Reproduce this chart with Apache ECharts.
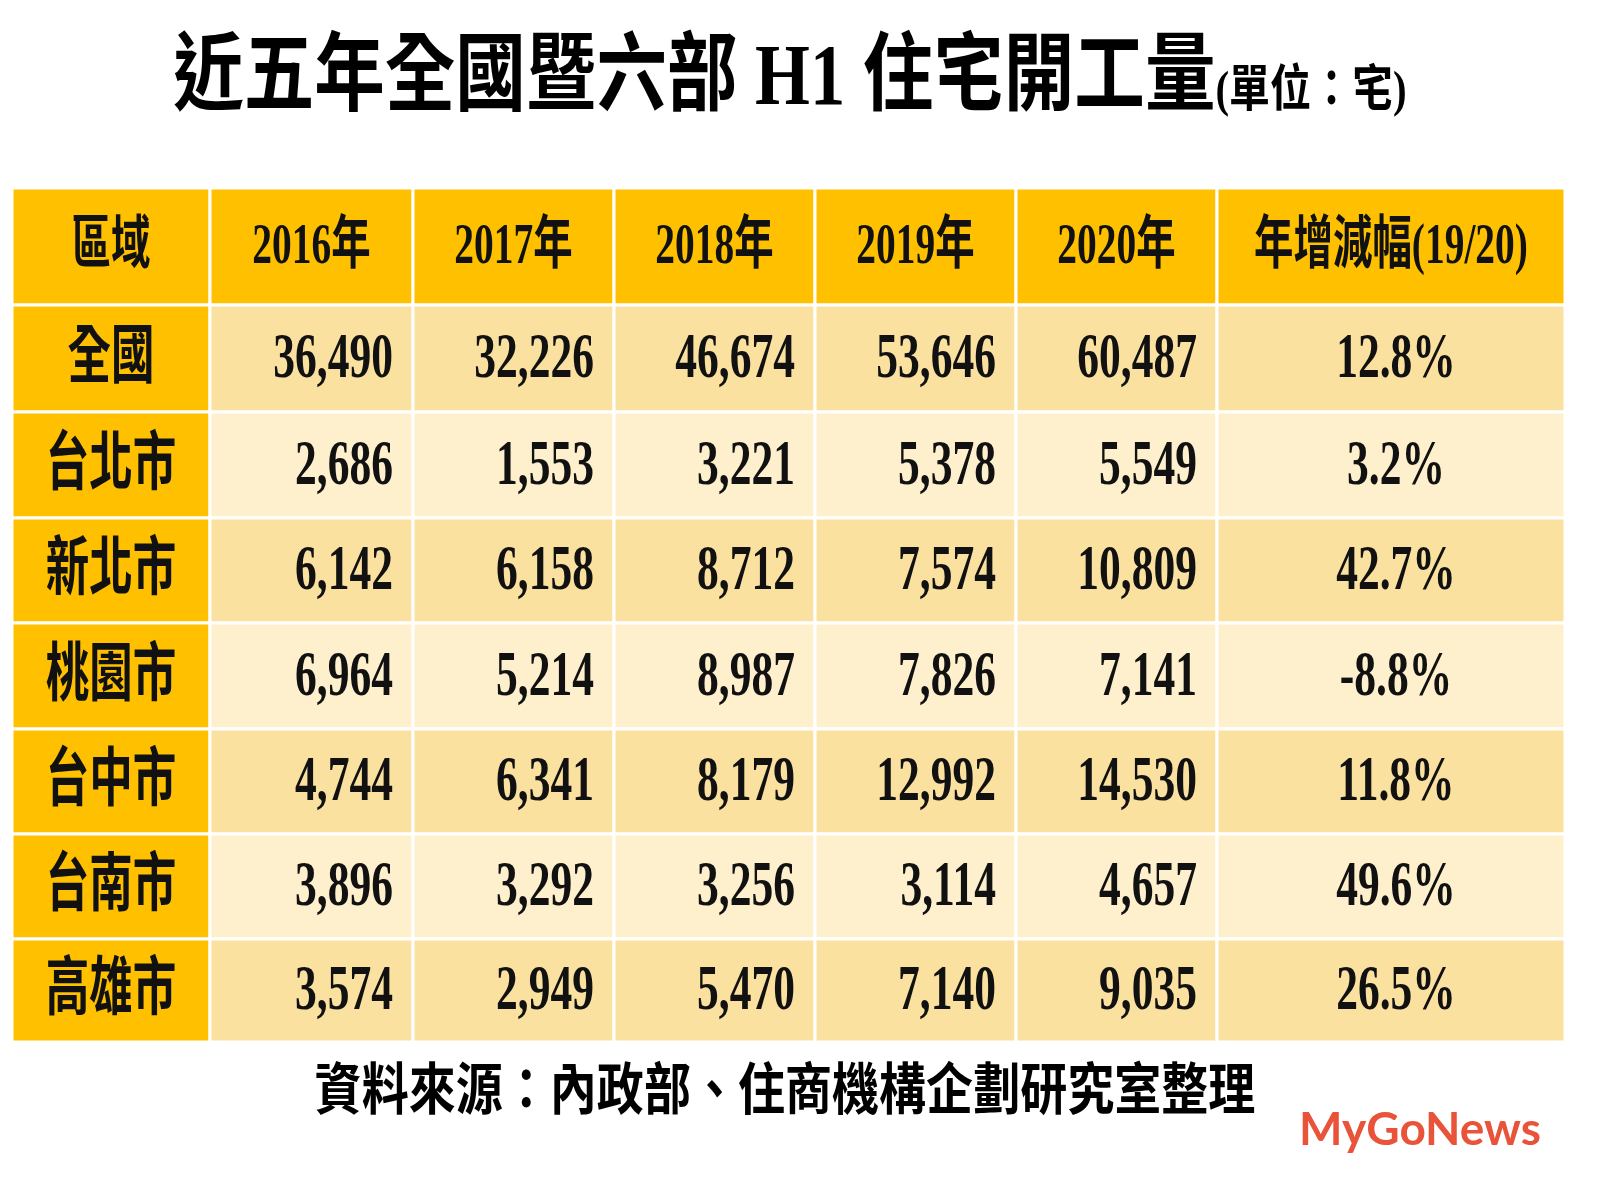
<!DOCTYPE html>
<html><head><meta charset="utf-8">
<script src="https://cdn.jsdelivr.net/npm/echarts@6/dist/echarts.min.js"></script>
<style>html,body{margin:0;background:#fff}#c{width:1600px;height:1200px}</style>
</head><body><div id="c"></div>
<script>
// data
var years = ['2016年', '2017年', '2018年', '2019年', '2020年'];
var regions = ['全國', '台北市', '新北市', '桃園市', '台中市', '台南市', '高雄市'];
var v2016 = [36490, 2686, 6142, 6964, 4744, 3896, 3574];
var v2017 = [32226, 1553, 6158, 5214, 6341, 3292, 2949];
var v2018 = [46674, 3221, 8712, 8987, 8179, 3256, 5470];
var v2019 = [53646, 5378, 7574, 7826, 12992, 3114, 7140];
var v2020 = [60487, 5549, 10809, 7141, 14530, 4657, 9035];
var change = [12.8, 3.2, 42.7, -8.8, 11.8, 49.6, 26.5];

// layout (table pixel edges inside the grid)
var colEdges = [0, 198, 401, 602, 803, 1004, 1205, 1553];
var rowEdges = [0, 117, 224, 330, 435, 541, 646, 751, 854];
var gold = '#FFC000', light = '#FEF0CC', tan = '#FBE1A0';
var font = '"Liberation Serif", "Noto Sans CJK TC", serif';

var cells = [];
var header = ['區域'].concat(years, ['年增減幅(19/20)']);
header.forEach(function (h, c) { cells.push([c, 0, h]); });
var cols = [v2016, v2017, v2018, v2019, v2020];
regions.forEach(function (r, i) {
    cells.push([0, i + 1, r]);
    cols.forEach(function (arr, c) { cells.push([c + 1, i + 1, arr[i].toLocaleString('en-US')]); });
    cells.push([6, i + 1, change[i].toFixed(1) + '%']);
});

function renderItem(params, api) {
    var c = api.value(0), r = api.value(1), txt = cells[params.dataIndex][2];
    var p0 = api.coord([colEdges[c], rowEdges[r]]);
    var p1 = api.coord([colEdges[c + 1], rowEdges[r + 1]]);
    var fill = (r === 0 || c === 0) ? gold : (r % 2 === 1 ? tan : light);
    var cx = (p0[0] + p1[0]) / 2, cy = (p0[1] + p1[1]) / 2;
    var isNum = r > 0 && c > 0 && c < 6;
    var tx = isNum ? p1[0] - 20 : cx;
    if (c === 6 && r > 0) tx = cx + 5;
    var size = (r === 0) ? 58 : 64;
    return {
        type: 'group',
        children: [{
            type: 'rect',
            shape: { x: p0[0], y: p0[1], width: p1[0] - p0[0], height: p1[1] - p0[1] },
            style: { fill: fill, stroke: '#fff', lineWidth: 3 }
        }, {
            type: 'text',
            x: tx, y: cy + 2, scaleX: 0.68, scaleY: 1,
            style: {
                text: txt, fill: '#111', font: 'bold ' + size + 'px ' + font,
                align: isNum ? 'right' : 'center', verticalAlign: 'middle'
            }
        }]
    };
}

var chart = echarts.init(document.getElementById('c'));
chart.setOption({
    animation: false,
    grid: { left: 12, top: 188, width: 1553, height: 854 },
    xAxis: { type: 'value', min: 0, max: 1553, show: false },
    yAxis: { type: 'value', min: 0, max: 854, inverse: true, show: false },
    graphic: [{
        type: 'text', x: 790, y: 82, scaleX: 0.82,
        style: {
            text: '近五年全國暨六部 H1 住宅開工量{s|(單位：宅)}', fill: '#000',
            font: 'bold 86px ' + font, align: 'center', verticalAlign: 'middle',
            rich: { s: { fontSize: 50, fontWeight: 'bold', fontFamily: font, fill: '#000', padding: [22, 0, 0, 0] } }
        }
    }, {
        type: 'text', x: 785, y: 1095, scaleX: 0.84,
        style: { text: '資料來源：內政部、住商機構企劃研究室整理', fill: '#000', font: 'bold 56px ' + font, align: 'center', verticalAlign: 'middle' }
    }, {
        type: 'text', x: 1420, y: 1130,
        style: { text: 'MyGoNews', fill: '#E8533A', font: 'bold 46px Lato, sans-serif', align: 'center', verticalAlign: 'middle' }
    }],
    series: [{
        type: 'custom',
        renderItem: renderItem,
        data: cells.map(function (d) { return [d[0], d[1]]; })
    }]
});
</script></body></html>
